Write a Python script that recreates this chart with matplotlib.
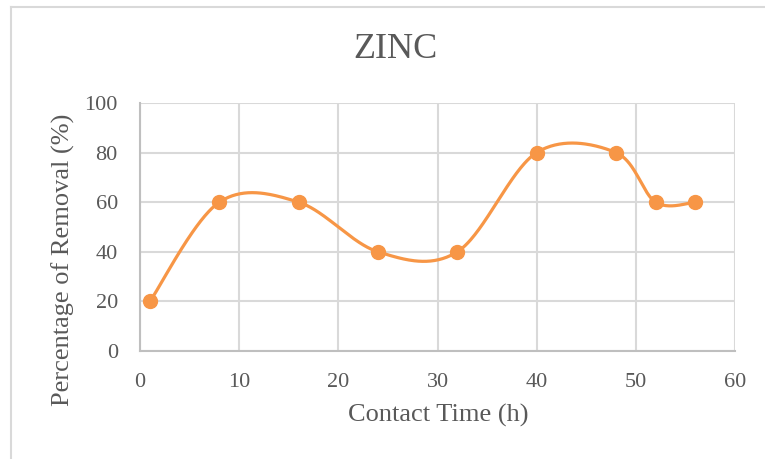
import matplotlib.pyplot as plt
import numpy as np
from matplotlib.lines import Line2D

plt.rcParams['font.family'] = ['Liberation Serif', 'DejaVu Serif']

contact_time = [1, 8, 16, 24, 32, 40, 48, 52, 56]
removal = [20, 60, 60, 40, 40, 80, 80, 60, 60]

x_ticks = [0, 10, 20, 30, 40, 50, 60]
y_ticks = [0, 20, 40, 60, 80, 100]

orange = '#F79646'
text_gray = '#595959'
grid_gray = '#D9D9D9'


def smooth_curve(x, y, n=60):
    # Excel-like smoothed line: cubic Bezier with Catmull-Rom control points
    pts = np.column_stack([x, y]).astype(float)
    padded = np.vstack([pts[0], pts, pts[-1]])
    t = np.linspace(0, 1, n)[:, None]
    out = []
    for i in range(len(pts) - 1):
        p0, p1, p2, p3 = padded[i], padded[i + 1], padded[i + 2], padded[i + 3]
        c1 = p1 + (p2 - p0) / 6
        c2 = p2 - (p3 - p1) / 6
        seg = ((1 - t) ** 3) * p1 + 3 * t * (1 - t) ** 2 * c1 + 3 * t ** 2 * (1 - t) * c2 + t ** 3 * p2
        out.append(seg)
    out = np.vstack(out)
    return out[:, 0], out[:, 1]


fig = plt.figure(figsize=(7.65, 4.59), dpi=100)
ax = fig.add_axes([140 / 765, 1 - 351 / 459, 595 / 765, 248 / 459])

xs, ys = smooth_curve(contact_time, removal)
ax.plot(xs, ys, color=orange, lw=2.3, zorder=3, solid_capstyle='round')
ax.plot(contact_time, removal, 'o', color=orange, ms=10, zorder=4)

ax.set_xlim(0, 60)
ax.set_ylim(0, 100)
ax.set_xticks(x_ticks)
ax.set_yticks(y_ticks)
ax.grid(True, color=grid_gray, lw=1.5)
ax.set_axisbelow(True)
for side in ['top', 'right']:
    ax.spines[side].set_visible(False)
for side in ['left', 'bottom']:
    ax.spines[side].set_color('#BFBFBF')
    ax.spines[side].set_linewidth(1.5)
ax.tick_params(length=0, labelsize=16, labelcolor=text_gray)
ax.tick_params(axis='x', pad=16)
ax.tick_params(axis='y', pad=16)

fig.text(395 / 765, 1 - 50 / 459, 'ZINC', ha='center', va='center', fontsize=26, color=text_gray)
fig.text(438 / 765, 1 - 415 / 459, 'Contact Time (h)', ha='center', va='center', fontsize=19, color=text_gray)
fig.text(63 / 765, 1 - 260 / 459, 'Percentage of Removal (%)', ha='center', va='center',
         rotation=90, fontsize=19, color=text_gray)

# chart area border
fig.add_artist(Line2D([11 / 765, 11 / 765], [0, 1 - 7 / 459], transform=fig.transFigure, color=grid_gray, lw=1.5))
fig.add_artist(Line2D([11 / 765, 1], [1 - 7 / 459, 1 - 7 / 459], transform=fig.transFigure, color=grid_gray, lw=1.5))

fig.savefig('out.png', dpi=100)
